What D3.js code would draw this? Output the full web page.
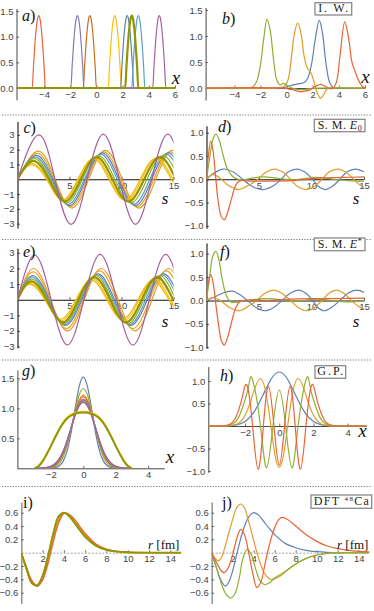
<!DOCTYPE html>
<html><head><meta charset="utf-8">
<script src="https://cdn.jsdelivr.net/npm/d3@7"></script>
<style>body{margin:0;background:#fff}svg{display:block}</style>
</head><body>
<script>
const W=374,H=611;
const C={blue:"#5e81b5",orange:"#e19c24",green:"#8fb032",red:"#eb6235",purple:"#8778b3",brown:"#c56e1a",lblue:"#5d9ec7",yellow:"#ffbf00",yellow2:"#f2b705",orange2:"#eaa52a",magenta:"#a5609d",olive:"#929600"};
const SERIF="'Liberation Serif','Times New Roman',serif";
const SANS="'Liberation Sans',Arial,sans-serif";

// a) infinite well states: hump profile and centres
const aOff=[-0.5,-0.4,-0.3,-0.2,-0.1,0,0.1,0.2,0.3,0.4,0.5];
const aHump=[0,0.44,0.83,1.14,1.34,1.41,1.34,1.14,0.83,0.44,0];
const aCenters=[-4.4,-1.45,-0.5,1.4,2.35,3.2,4.8,2.7];
const aColors=[C.red,C.purple,C.brown,C.yellow,C.blue,C.lblue,C.magenta,C.olive];

// b) I.W.
const bBlue=[[-6.2,0],[-0.5,0],[0,0.02],[0.5,0.06],[0.9,0.08],[1.3,0.1],[1.6,0.18],[1.9,0.45],[2.2,0.95],[2.5,1.3],[2.75,1.05],[3.0,0.5],[3.3,0.1],[3.6,0],[4,0],[6,0]];
const bOrange=[[-6.2,0],[-1,0],[-0.5,0.01],[-0.2,0.03],[0.1,0.15],[0.35,0.55],[0.6,1.05],[0.85,1.25],[1.1,1.05],[1.35,0.6],[1.6,0.38],[1.85,0.3],[2.1,0.12],[2.35,-0.1],[2.6,-0.2],[2.85,-0.12],[3.1,-0.02],[3.5,0],[6,0]];
const bGreen=[[-6.2,0],[-3,0],[-2.6,0.02],[-2.3,0.12],[-2.0,0.45],[-1.75,0.95],[-1.5,1.32],[-1.25,1.1],[-1.0,0.55],[-0.75,0.15],[-0.5,0.06],[-0.25,0.09],[0,0.06],[0.3,0.01],[0.7,-0.02],[1.2,-0.03],[1.8,-0.01],[2.5,0],[6,0]];
const bRed=[[-6.2,0],[-0.3,0],[0.2,-0.02],[0.6,-0.04],[1.0,-0.07],[1.4,-0.06],[1.8,-0.03],[2.2,0.03],[2.6,0.07],[2.9,0.04],[3.2,0],[3.5,-0.01],[3.8,0.1],[4.1,0.65],[4.45,1.27],[4.75,0.95],[5.0,0.5],[5.2,0.35],[5.5,0.15],[5.8,0.03],[6,0]];

// c) S.M. E0 - peaks and zero crossings
const cOrange=[[0,0],[2.0,1.9],[3.61,0],[5.23,-1.95],[6.84,0],[8.45,1.95],[10.06,0],[11.68,-1.95],[13.29,0],[14.9,1.95],[16.51,0]];
const cOrange2=[[0,0],[1.9,1.75],[3.5,0],[5.1,-1.85],[6.7,0],[8.3,1.85],[9.9,0],[11.5,-1.85],[13.1,0],[14.7,1.85],[16.3,0]];
const cBlue=[[0,0],[1.8,1.62],[3.39,0],[4.98,-1.78],[6.56,0],[8.15,1.78],[9.74,0],[11.33,-1.78],[12.91,0],[14.5,1.78],[16.09,0]];
const cLBlue=[[0,0],[1.7,1.52],[3.28,0],[4.85,-1.7],[6.43,0],[8.0,1.7],[9.58,0],[11.15,-1.7],[12.73,0],[14.3,1.7],[15.88,0]];
const cGreen=[[0,0],[1.6,1.42],[3.15,0],[4.7,-1.6],[6.25,0],[7.8,1.6],[9.35,0],[10.9,-1.6],[12.45,0],[14.0,1.6],[15.55,0]];
const cYellow=[[0,0],[1.35,1.08],[2.86,0],[4.38,-1.45],[5.89,0],[7.4,1.45],[8.91,0],[10.43,-1.45],[11.94,0],[13.45,1.45],[14.96,0],[16.48,-1.45]];
const cYellow2=[[0,0],[1.3,0.98],[2.8,0],[4.3,-1.4],[5.8,0],[7.3,1.4],[8.8,0],[10.3,-1.4],[11.8,0],[13.3,1.4],[14.8,0],[16.3,-1.4]];
const cOlive=[[0,0],[1.5,1.25],[3.03,0],[4.55,-1.5],[6.08,0],[7.6,1.5],[9.13,0],[10.65,-1.5],[12.18,0],[13.7,1.5],[15.23,0]];
const cMagenta=[[0,0],[2.05,3.0],[3.6,0],[5.15,-3.05],[6.7,0],[8.25,3.05],[9.8,0],[11.35,-3.05],[12.9,0],[14.45,3.05],[16.0,0]];

// d)
const dBlue=[[0,0],[0.6,0.12],[1.6,0.22],[2.6,0.15],[3.45,0],[4.4,-0.16],[5.35,-0.22],[6.3,-0.15],[7.1,0],[7.8,0.16],[8.6,0.22],[9.4,0.15],[10.1,0],[10.7,-0.16],[11.3,-0.22],[12.0,-0.15],[12.7,0],[13.4,0.16],[14.2,0.22],[15,0.16]];
const dOrange=[[0,0],[0.6,0.1],[1.2,0.04],[2.0,-0.12],[3.0,-0.22],[4.0,-0.13],[4.9,0],[5.7,0.16],[6.5,0.22],[7.3,0.15],[8.0,0],[8.7,-0.16],[9.5,-0.22],[10.3,-0.15],[11.0,0],[11.7,0.16],[12.5,0.22],[13.3,0.15],[14.0,0],[14.6,-0.12],[15,-0.17]];
const dGreen=[[0,0],[0.3,0.45],[0.6,0.85],[0.9,0.97],[1.2,0.85],[1.6,0.5],[2.0,0.22],[2.5,0.06],[3.0,0],[3.5,-0.01],[4.5,0.03],[5.5,0.05],[6.5,0.03],[7.5,0],[8.5,-0.01],[9.5,0.02],[10.5,0.04],[11.5,0.02],[12.5,-0.01],[13.5,-0.03],[14.5,-0.04],[15,-0.04]];
const dRed=[[0,0],[0.15,0.45],[0.4,0.82],[0.6,0.65],[0.85,0.1],[1.1,-0.45],[1.4,-0.8],[1.7,-0.87],[2.0,-0.72],[2.4,-0.4],[2.8,-0.12],[3.2,-0.03],[4,-0.04],[6,-0.04],[8,-0.03],[9.5,0],[11,0.03],[13,0.04],[15,0.05]];

// e) S.M. E*
const eOrange=[[0,0],[1.55,2.0],[3.18,0],[4.8,-2.0],[6.43,0],[8.05,2.0],[9.68,0],[11.3,-2.0],[12.93,0],[14.55,2.0],[16.18,0]];
const eOrange2=[[0,0],[1.5,1.78],[3.1,0],[4.7,-1.85],[6.3,0],[7.9,1.85],[9.5,0],[11.1,-1.85],[12.7,0],[14.3,1.85],[15.9,0]];
const eBlue=[[0,0],[1.45,1.55],[3.03,0],[4.6,-1.65],[6.18,0],[7.75,1.65],[9.33,0],[10.9,-1.65],[12.48,0],[14.05,1.65],[15.63,0]];
const eLBlue=[[0,0],[1.4,1.45],[2.96,0],[4.52,-1.6],[6.08,0],[7.64,1.6],[9.2,0],[10.76,-1.6],[12.32,0],[13.88,1.6],[15.44,0]];
const eGreen=[[0,0],[1.35,1.32],[2.89,0],[4.43,-1.55],[5.97,0],[7.51,1.55],[9.05,0],[10.59,-1.55],[12.13,0],[13.67,1.55],[15.21,0]];
const eYellow=[[0,0],[1.2,1.05],[2.7,0],[4.2,-1.35],[5.7,0],[7.2,1.35],[8.7,0],[10.2,-1.35],[11.7,0],[13.2,1.35],[14.7,0],[16.2,-1.35]];
const eYellow2=[[0,0],[1.15,0.98],[2.64,0],[4.13,-1.25],[5.62,0],[7.11,1.25],[8.6,0],[10.09,-1.25],[11.58,0],[13.07,1.25],[14.56,0],[16.05,-1.25]];
const eOlive=[[0,0],[1.3,1.18],[2.82,0],[4.34,-1.45],[5.86,0],[7.38,1.45],[8.9,0],[10.42,-1.45],[11.94,0],[13.46,1.45],[14.98,0],[16.5,-1.45]];
const eMagenta=[[0,0],[1.65,2.85],[3.23,0],[4.8,-2.9],[6.38,0],[7.95,2.9],[9.53,0],[11.1,-2.9],[12.68,0],[14.25,2.9],[15.83,0]];

// f)
const fBlue=[[0,0],[0.8,0.08],[1.7,0.17],[2.5,0.2],[3.2,0.12],[3.9,0],[4.7,-0.15],[5.6,-0.22],[6.4,-0.15],[7.2,0],[8.0,0.16],[8.8,0.22],[9.5,0.15],[10.1,0],[10.6,-0.15],[11.2,-0.22],[11.9,-0.15],[12.7,0],[13.5,0.16],[14.3,0.22],[15,0.17]];
const fOrange=[[0,0],[0.6,0.06],[1.3,0],[2.2,-0.15],[3.2,-0.22],[4.0,-0.12],[4.8,0],[5.6,0.16],[6.4,0.22],[7.2,0.15],[8.0,0],[8.8,-0.16],[9.6,-0.22],[10.3,-0.15],[11.0,0],[11.7,0.16],[12.4,0.22],[13.1,0.15],[13.8,0],[14.5,-0.13],[15,-0.18]];
const fGreen=[[0,0],[0.3,0.5],[0.6,0.95],[0.9,1.05],[1.2,0.85],[1.5,0.45],[1.9,0.1],[2.3,-0.03],[2.8,-0.04],[3.5,-0.01],[4.5,0.02],[5.5,0.04],[6.5,0.03],[7.5,0.01],[8.5,-0.01],[9.5,0.01],[10.5,0.03],[11.5,0.01],[12.5,-0.02],[13.5,-0.03],[14.5,-0.02],[15,-0.02]];
const fRed=[[0,0.1],[0.15,0.35],[0.4,0.55],[0.65,0.35],[0.9,-0.1],[1.2,-0.6],[1.45,-0.88],[1.7,-0.95],[2.0,-0.8],[2.4,-0.45],[2.8,-0.15],[3.2,-0.02],[4,0.01],[6,0],[8,0.03],[10,0.04],[12,0.04],[15,0.05]];

// g) ground states, sampled on gX
const gX=[-3,-2.75,-2.5,-2.25,-2,-1.75,-1.5,-1.25,-1,-0.75,-0.5,-0.25,0,0.25,0.5,0.75,1,1.25,1.5,1.75,2,2.25,2.5,2.75,3];
const gBlue=[0,0,0,0,.002,.010,.037,.115,.290,.600,1.006,1.371,1.52,1.371,1.006,.600,.290,.115,.037,.010,.002,0,0,0,0];
const gOrange=[0,0,.001,.005,.017,.047,.111,.231,.420,.670,.935,1.142,1.22,1.142,.935,.670,.420,.231,.111,.047,.017,.005,.001,0,0];
const gGreen=[0,0,0,.002,.009,.028,.078,.186,.378,.656,.971,1.229,1.33,1.229,.971,.656,.378,.186,.078,.028,.009,.002,0,0,0];
const gRed=[0,0,.002,.007,.020,.052,.120,.242,.429,.670,.922,1.116,1.19,1.116,.922,.670,.429,.242,.120,.052,.020,.007,.002,0,0];
const gPurple=[0,.001,.003,.009,.026,.063,.137,.262,.446,.675,.907,1.084,1.15,1.084,.907,.675,.446,.262,.137,.063,.026,.009,.003,.001,0];
const gBrown=[0,.001,.004,.011,.029,.069,.145,.271,.453,.676,.899,1.067,1.13,1.067,.899,.676,.453,.271,.145,.069,.029,.011,.004,.001,0];
const gLBlue=[0,.001,.004,.013,.033,.075,.153,.280,.460,.676,.890,1.05,1.11,1.05,.890,.676,.460,.280,.153,.075,.033,.013,.004,.001,0];
const gMagenta=[0,.001,.005,.014,.034,.077,.155,.282,.461,.674,.884,1.041,1.10,1.041,.884,.674,.461,.282,.155,.077,.034,.014,.005,.001,0];
const gYellow=[.01,.05,.14,.26,.39,.53,.66,.77,.85,.9,.93,.945,.95,.945,.93,.9,.85,.77,.66,.53,.39,.26,.14,.05,.01];
const gOlive=[0,.04,.12,.24,.37,.51,.64,.75,.83,.88,.91,.925,.93,.925,.91,.88,.83,.75,.64,.51,.37,.24,.12,.04,0];

// h) G.P. excited states
const hBlue=[[-4.15,0],[-3.5,0],[-3,0.005],[-2.5,0.025],[-2,0.102],[-1.5,0.299],[-1,0.648],[-0.5,1.029],[0,1.2],[0.5,1.029],[1,0.648],[1.5,0.299],[2,0.102],[2.5,0.025],[3,0.005],[3.5,0],[5.1,0]];
const hOrange=[[-4.15,0],[-3.4,0],[-3,0.003],[-2.75,0.012],[-2.5,0.038],[-2.25,0.103],[-2,0.238],[-1.75,0.465],[-1.5,0.758],[-1.1,1.055],[-0.75,0.672],[-0.49,0],[-0.25,-0.643],[0,-0.92],[0.25,-0.643],[0.49,0],[0.75,0.672],[1.1,1.055],[1.5,0.758],[1.75,0.465],[2,0.238],[2.25,0.103],[2.5,0.038],[2.75,0.012],[3,0.003],[3.4,0],[5.1,0]];
const hGreen=[[-4.15,0],[-3.4,0],[-3,0.01],[-2.7,0.048],[-2.4,0.175],[-2.1,0.468],[-1.8,0.875],[-1.57,1.04],[-1.1,0],[-0.74,-0.93],[-0.37,0],[0,0.8],[0.37,0],[0.74,-0.93],[1.1,0],[1.57,1.04],[1.8,0.875],[2.1,0.468],[2.4,0.175],[2.7,0.048],[3,0.01],[3.4,0],[5.1,0]];
const hRed=[[-4.15,0],[-3.5,0],[-3.11,0.01],[-2.87,0.043],[-2.62,0.14],[-2.38,0.354],[-2.14,0.68],[-1.88,0.9],[-1.56,0],[-1.24,-0.96],[-0.93,0],[-0.63,0.88],[-0.31,0],[0,-0.87],[0.31,0],[0.63,0.88],[0.93,0],[1.24,-0.96],[1.56,0],[1.88,0.9],[2.14,0.68],[2.38,0.354],[2.62,0.14],[2.87,0.043],[3.11,0.01],[3.5,0],[5.1,0]];

// i) DFT radial functions, sampled on iR
const iR=[0,0.5,1,1.5,2,2.5,3,3.5,4,4.5,5,5.5,6,7,8,9,10,11,12,15];
const iRed=[0,-.22,-.42,-.5,-.41,-.17,.16,.44,.59,.57,.5,.39,.29,.13,.055,.021,.008,.003,.001,0];
const iOrange=[0,-.23,-.44,-.5,-.39,-.12,.21,.48,.6,.57,.48,.37,.27,.12,.05,.019,.007,.002,0,0];
const iYellow=[0,-.25,-.45,-.49,-.36,-.08,.26,.52,.6,.56,.46,.35,.25,.11,.045,.017,.006,.002,0,0];
const iGreen=[0,-.26,-.46,-.48,-.33,-.04,.3,.55,.6,.54,.44,.33,.23,.1,.04,.015,.005,.001,0,0];
const iOlive=[0,-.25,-.46,-.49,-.35,-.06,.28,.54,.6,.55,.45,.34,.24,.105,.042,.016,.006,.002,0,0];

// j) DFT 48Ca
const jBlue=[[0,0],[0.5,-0.25],[1,-0.45],[1.3,-0.5],[1.6,-0.45],[2,-0.27],[2.5,0.05],[3,0.34],[3.5,0.53],[4,0.6],[4.5,0.56],[5,0.46],[5.5,0.36],[6,0.27],[7,0.14],[8,0.075],[9,0.035],[10,0.015],[11,0.005],[12,0],[15,0]];
const jOrange=[[0,0],[0.3,-0.08],[0.6,-0.12],[0.9,-0.08],[1.2,0.05],[1.6,0.28],[2,0.5],[2.4,0.68],[2.75,0.73],[3.1,0.68],[3.5,0.48],[4,0.18],[4.5,-0.1],[5,-0.3],[5.5,-0.39],[5.8,-0.4],[6.2,-0.38],[6.7,-0.33],[7,-0.29],[8,-0.17],[9,-0.085],[10,-0.035],[11,-0.012],[12,-0.003],[13,0],[15,0]];
const jGreen=[[0,0],[0.5,-0.25],[1,-0.5],[1.4,-0.63],[1.8,-0.68],[2.2,-0.62],[2.6,-0.4],[3,-0.07],[3.4,0.05],[3.8,-0.04],[4.2,-0.25],[4.6,-0.42],[5.05,-0.48],[5.5,-0.45],[6,-0.38],[6.5,-0.33],[7,-0.28],[8,-0.17],[9,-0.085],[10,-0.035],[11,-0.012],[12,-0.003],[13,0],[15,0]];
const jRed=[[0,0],[0.5,-0.16],[0.9,-0.27],[1.2,-0.3],[1.5,-0.25],[2,-0.03],[2.4,0.22],[2.75,0.35],[3.1,0.28],[3.5,0.02],[3.9,-0.3],[4.3,-0.52],[4.7,-0.43],[5.1,-0.15],[5.5,0.12],[6,0.38],[6.4,0.5],[6.75,0.53],[7.2,0.5],[8,0.4],[9,0.27],[10,0.17],[11,0.1],[12,0.06],[13,0.035],[14,0.02],[15,0.012]];

const svg=d3.select("body").append("svg").attr("width",W).attr("height",H);

// dotted separators between rows
[115,239.5,360,486.5].forEach(y=>{
  svg.append("line").attr("x1",2).attr("x2",372).attr("y1",y).attr("y2",y)
    .attr("stroke","#666").attr("stroke-width",0.9).attr("stroke-dasharray","1.2,1.5");
});

const f1=d3.format(".1f"), fd=d3.format("d");
const zip=(xs,ys)=>xs.map((v,i)=>[v,ys[i]]);
const aCurves=aCenters.map((c,k)=>({data:[[-6.1,0],...aOff.map((o,i)=>[c+o,aHump[i]]),[6,0]],color:aColors[k],w:k==7?2.2:1.2}));

const panels=[
 {xd:[-6.1,6],xr:[16.5,175],yd:[-0.23,1.55],yr:[99.8,8.5],xt:[-4,-2,0,2,4,6],yt:[0,0.5,1,1.5],xf:fd,yf:f1,
  curve:d3.curveMonotoneX,curves:aCurves,lab:"a)",lp:[22,21],axl:{t:"x",p:[176,84],s:19}},
 {xd:[-6.2,6],xr:[205.6,365],yd:[-0.23,1.55],yr:[100,7.4],xt:[-4,-2,0,2,4,6],yt:[0,0.5,1,1.5],xf:fd,yf:f1,
  curve:d3.curveCatmullRom.alpha(0.5),curves:[{data:bBlue,color:C.blue},{data:bOrange,color:C.orange},{data:bGreen,color:C.green},{data:bRed,color:C.red}],
  lab:"b)",lp:[222,24],axl:{t:"x",p:[365.5,83],s:19},box:{x:315,y:2.7,w:36.7,h:12.3,len:30,parts:[["I. W.",""]]}},
 {xd:[0,15],xr:[17.5,173.5],yd:[-3.3,3.9],yr:[228.1,121.6],xt:[5,10,15],yt:[-3,-2,-1,1,2,3],xf:fd,yf:fd,axc:"#111",axw:1.1,
  curve:d3.curveNatural,curves:[{data:cOrange,color:C.orange},{data:cOrange2,color:C.orange2},{data:cBlue,color:C.blue},{data:cLBlue,color:C.lblue},{data:cGreen,color:C.green},{data:cYellow,color:C.yellow},{data:cYellow2,color:C.yellow2},{data:cOlive,color:C.olive,w:2.2},{data:cMagenta,color:C.magenta}],
  lab:"c)",lp:[23.5,133],axl:{t:"s",p:[165,204],s:17}},
 {xd:[0,15],xr:[206.5,364],yd:[-1.05,1.15],yr:[228.2,125.7],xt:[5,10,15],yt:[-1,-0.5,0,0.5,1],xf:fd,yf:f1,axc:"#111",axw:1.1,
  curve:d3.curveCatmullRom.alpha(0.5),curves:[{data:dBlue,color:C.blue},{data:dOrange,color:C.orange},{data:dGreen,color:C.green},{data:dRed,color:C.red}],
  lab:"d)",lp:[218,132],axl:{t:"s",p:[356,204],s:17},box:{x:314.3,y:119.3,w:50.7,h:12.4,len:44,parts:[["S. M. ",""],["E","i"],["0","sub"]]}},
 {xd:[0,15],xr:[17.5,173.5],yd:[-3.1,3.3],yr:[348.1,248.2],xt:[5,10,15],yt:[-3,-2,-1,1,2,3],xf:fd,yf:fd,axc:"#111",axw:1.1,
  curve:d3.curveNatural,curves:[{data:eOrange,color:C.orange},{data:eOrange2,color:C.orange2},{data:eBlue,color:C.blue},{data:eLBlue,color:C.lblue},{data:eGreen,color:C.green},{data:eYellow,color:C.yellow},{data:eYellow2,color:C.yellow2},{data:eOlive,color:C.olive,w:2.2},{data:eMagenta,color:C.magenta}],
  lab:"e)",lp:[23,257],axl:{t:"s",p:[165,327],s:17}},
 {xd:[0,15],xr:[206.5,364],yd:[-1.02,1.23],yr:[348.2,242.9],xt:[5,10,15],yt:[-1,-0.5,0,0.5,1],xf:fd,yf:f1,axc:"#111",axw:1.1,
  curve:d3.curveCatmullRom.alpha(0.5),curves:[{data:fBlue,color:C.blue},{data:fOrange,color:C.orange},{data:fGreen,color:C.green},{data:fRed,color:C.red}],
  lab:"f)",lp:[220,257],axl:{t:"s",p:[356,327],s:17},box:{x:314.3,y:238,w:50.7,h:12.7,len:44,parts:[["S. M. ",""],["E","i"],["*","sup"]]}},
 {xd:[-4.07,5],xr:[17.4,164.3],yd:[0,1.64],yr:[468.3,369.9],xt:[-2,0,2,4],yt:[0.5,1,1.5],xf:fd,yf:f1,
  curve:d3.curveMonotoneX,curves:[gBlue,gOrange,gGreen,gRed,gPurple,gBrown,gLBlue,gMagenta,gYellow,gOlive].map((ys,i)=>({data:zip(gX,ys),color:[C.blue,C.orange,C.green,C.red,C.purple,C.brown,C.lblue,C.magenta,C.yellow,C.olive][i],w:i==9?2:1.2})),
  lab:"g)",lp:[22,376],axl:{t:"x",p:[170,463],s:19}},
 {xd:[-4.15,5.1],xr:[208.3,366.5],yd:[-1.03,1.32],yr:[472.35,366.6],xt:[-2,0,2,4],yt:[-1,-0.5,0.5,1],xf:fd,yf:f1,
  curve:d3.curveNatural,curves:[{data:hBlue,color:C.blue},{data:hOrange,color:C.orange},{data:hGreen,color:C.green},{data:hRed,color:C.red}],
  lab:"h)",lp:[220,381],axl:{t:"x",p:[362.5,437],s:19},box:{x:315,y:365.7,w:30.7,h:12.6,len:26,parts:[["G.P.",""]]}},
 {xd:[0,15],xr:[21.3,181],yd:[-0.76,0.76],yr:[603.4,502],xt:[2,4,6,8,10,12,14],yt:[-0.6,-0.4,-0.2,0.2,0.4,0.6],xf:fd,yf:f1,dft:true,
  curve:d3.curveCatmullRom.alpha(0.5),curves:[iGreen,iYellow,iOrange,iRed,iOlive].map((ys,i)=>({data:zip(iR,ys),color:[C.green,C.yellow,C.orange,C.red,C.olive][i],w:i==4?1.8:1.3})),
  lab:"i)",up:true,lp:[23,508],rl:[148,549]},
 {xd:[0,15],xr:[211.7,369.2],yd:[-0.76,0.76],yr:[603.4,502],xt:[2,4,6,8,10,12,14],yt:[-0.6,-0.4,-0.2,0.2,0.4,0.6],xf:fd,yf:f1,dft:true,
  curve:d3.curveCatmullRom.alpha(0.5),curves:[{data:jBlue,color:C.blue},{data:jOrange,color:C.orange},{data:jGreen,color:C.green},{data:jRed,color:C.red}],
  lab:"j)",up:true,lp:[222,508],rl:[337,549],box:{x:311,y:495,w:60.7,h:13.3,len:55,parts:[["DFT ",""],["48","pre"],["Ca","base"]]}}
];

panels.forEach((o,pi)=>{
  const g=svg.append("g");
  const x=d3.scaleLinear().domain(o.xd).range(o.xr);
  const y=d3.scaleLinear().domain(o.yd).range(o.yr);
  const axc=o.axc||"#333", axw=o.axw||0.9;
  const gx=g.append("g").attr("transform",`translate(0,${y(0)})`)
    .call(d3.axisBottom(x).tickValues(o.xt).tickFormat(o.xf).tickSizeInner(-2.5).tickSizeOuter(0).tickPadding(3));
  const gy=g.append("g").attr("transform",`translate(${o.xr[0]},0)`)
    .call(d3.axisLeft(y).tickValues(o.yt).tickFormat(o.yf).tickSizeInner(-2.5).tickSizeOuter(0).tickPadding(3));
  [gx,gy].forEach(a=>{
    a.attr("font-family",SANS).attr("font-size",9.5);
    a.selectAll("text").attr("fill","#444");
    a.selectAll(".tick line").attr("stroke",axc).attr("stroke-width",0.7);
    a.select(".domain").attr("stroke",axc).attr("stroke-width",axw);
  });
  if(o.dft){
    gx.select(".domain").attr("stroke","#999").attr("stroke-width",0.9).attr("stroke-dasharray","2,1.5");
    gy.select(".domain").attr("stroke","#999").attr("stroke-width",1.6);
  }
  const cid="clip"+pi;
  svg.append("clipPath").attr("id",cid).append("rect")
    .attr("x",o.xr[0]).attr("width",o.xr[1]-o.xr[0]).attr("y",o.yr[1]-3).attr("height",o.yr[0]-o.yr[1]+6);
  const line=d3.line().x(d=>x(d[0])).y(d=>y(d[1])).curve(o.curve);
  g.append("g").attr("clip-path",`url(#${cid})`).selectAll("path").data(o.curves).join("path")
    .attr("d",d=>line(d.data)).attr("fill","none").attr("stroke",d=>d.color)
    .attr("stroke-width",d=>d.w||1.2).attr("stroke-linejoin","round");
  // panel letter
  const t=g.append("text").attr("x",o.lp[0]).attr("y",o.lp[1]).attr("font-family",SERIF).attr("font-size",16).attr("fill","#111");
  if(o.up) t.text(o.lab);
  else { t.append("tspan").attr("font-style","italic").text(o.lab[0]); t.append("tspan").text(")"); }
  // axis variable
  if(o.axl){
    g.append("text").attr("x",o.axl.p[0]).attr("y",o.axl.p[1]).attr("text-anchor","middle")
      .attr("font-family",SERIF).attr("font-style","italic").attr("font-size",o.axl.s).attr("fill","#111").text(o.axl.t);
  }
  if(o.rl){
    const r=g.append("text").attr("x",o.rl[0]).attr("y",o.rl[1]).attr("font-family",SERIF).attr("font-size",13).attr("fill","#111");
    r.append("tspan").attr("font-style","italic").text("r");
    r.append("tspan").text(" [fm]");
  }
  if(o.box){
    const b=o.box;
    g.append("rect").attr("x",b.x).attr("y",b.y).attr("width",b.w).attr("height",b.h)
      .attr("fill","#fff").attr("stroke","#8a8a8a").attr("stroke-width",1.3);
    const bt=g.append("text").attr("x",b.x+b.w/2).attr("y",b.y+b.h-3).attr("text-anchor","middle")
      .attr("font-family",SERIF).attr("font-size",12).attr("fill","#222")
      .attr("textLength",b.len).attr("lengthAdjust","spacing");
    b.parts.forEach(([s,k])=>{
      const sp=bt.append("tspan").text(s);
      if(k=="i") sp.attr("font-style","italic");
      if(k=="sub") sp.attr("font-size",8).attr("dy",2.5);
      if(k=="sup") sp.attr("font-size",8).attr("dy",-4);
      if(k=="pre") sp.attr("font-size",7).attr("dy",-4);
      if(k=="base") sp.attr("dy",4);
    });
  }
});
</script>
</body></html>
